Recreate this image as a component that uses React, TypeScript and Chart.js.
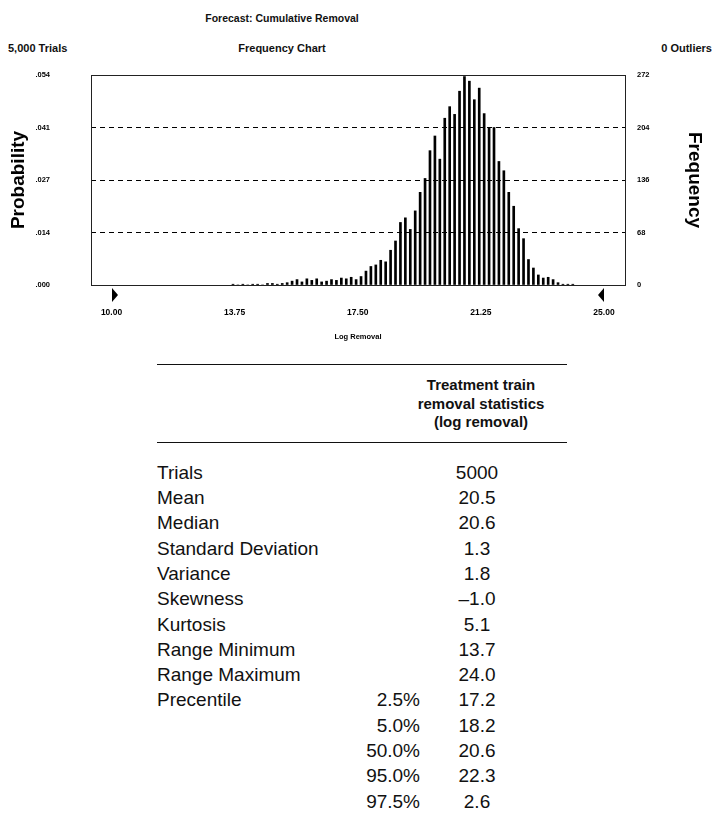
import React, { useEffect, useRef } from "react";
import { Chart, registerables } from "chart.js";

Chart.register(...registerables);

// ---------- chart data ----------
const binCenters = [
  13.7, 13.85, 14.0, 14.15, 14.3, 14.45, 14.6, 14.75, 14.9, 15.05,
  15.2, 15.35, 15.5, 15.65, 15.8, 15.95, 16.1, 16.25, 16.4, 16.55,
  16.7, 16.85, 17.0, 17.15, 17.3, 17.45, 17.6, 17.75, 17.9, 18.05,
  18.2, 18.35, 18.5, 18.65, 18.8, 18.95, 19.1, 19.25, 19.4, 19.55,
  19.7, 19.85, 20.0, 20.15, 20.3, 20.45, 20.6, 20.75, 20.9, 21.05,
  21.2, 21.35, 21.5, 21.65, 21.8, 21.95, 22.1, 22.25, 22.4, 22.55,
  22.7, 22.85, 23.0, 23.15, 23.3, 23.45, 23.6, 23.75, 23.9, 24.05,
];
const frequencies = [
  1, 0, 1, 0, 1, 1, 0, 2, 2, 1,
  2, 3, 5, 7, 4, 8, 6, 8, 4, 5,
  7, 6, 9, 8, 10, 7, 11, 18, 24, 26,
  32, 30, 45, 57, 81, 87, 72, 96, 120, 138,
  174, 193, 163, 216, 231, 221, 251, 270, 264, 240,
  255, 222, 204, 204, 160, 148, 120, 102, 73, 60,
  33, 22, 13, 9, 10, 7, 3, 1, 1, 1,
];
const freqTicks = [0, 68, 136, 204, 272];
const probLabels = [".000", ".014", ".027", ".041", ".054"];
const xTicks = [10, 13.75, 17.5, 21.25, 25];
const xTickLabels = ["10.00", "13.75", "17.50", "21.25", "25.00"];
const certaintyMarkers = [10, 25];

// ---------- header texts ----------
const chartTitle = "Forecast: Cumulative Removal";
const trialsText = "5,000 Trials";
const chartKind = "Frequency Chart";
const outliersText = "0 Outliers";

// ---------- table data ----------
const tableHeader = ["Treatment train", "removal statistics", "(log removal)"];
const statLabels = [
  "Trials", "Mean", "Median", "Standard Deviation", "Variance",
  "Skewness", "Kurtosis", "Range Minimum", "Range Maximum", "Precentile",
];
const statValues = ["5000", "20.5", "20.6", "1.3", "1.8", "\u20131.0", "5.1", "13.7", "24.0"];
const percentileLevels = ["2.5%", "5.0%", "50.0%", "95.0%", "97.5%"];
const percentileValues = ["17.2", "18.2", "20.6", "22.3", "2.6"];

const SANS = "'Liberation Sans', Arial, Helvetica, sans-serif";

export default function App() {
  const canvasRef = useRef<HTMLCanvasElement>(null);

  useEffect(() => {
    const canvas = canvasRef.current;
    if (!canvas) return;

    const framePlugin = {
      id: "frame",
      afterDatasetsDraw(chart: any) {
        const { ctx, chartArea: a } = chart;
        ctx.save();
        ctx.strokeStyle = "#222";
        ctx.lineWidth = 1;
        ctx.strokeRect(
          Math.round(a.left) + 0.5,
          Math.round(a.top) + 0.5,
          Math.round(a.right - a.left),
          Math.round(a.bottom - a.top)
        );
        ctx.restore();
      },
    };

    const markerPlugin = {
      id: "markers",
      afterDraw(chart: any) {
        const { ctx } = chart;
        const xs = chart.scales.x;
        const b = chart.chartArea.bottom;
        ctx.save();
        ctx.fillStyle = "#000";
        certaintyMarkers.forEach((v, i) => {
          const px = Math.round(xs.getPixelForValue(v));
          const dir = i === 0 ? 1 : -1;
          ctx.beginPath();
          ctx.moveTo(px, b + 3);
          ctx.lineTo(px, b + 17);
          ctx.lineTo(px + dir * 6, b + 10);
          ctx.closePath();
          ctx.fill();
        });
        ctx.restore();
      },
    };

    const tickFont = { family: SANS, size: 7.5, weight: "bold" as const };

    const chart = new Chart(canvas, {
      type: "bar",
      data: {
        datasets: [
          {
            data: binCenters.map((c, i) => ({ x: c, y: frequencies[i] })),
            backgroundColor: "#000",
            borderWidth: 0,
            barThickness: 2,
            yAxisID: "y",
          },
        ],
      },
      options: {
        animation: false,
        responsive: true,
        maintainAspectRatio: false,
        layout: { padding: { top: 75, left: 6, right: 6, bottom: 4 } },
        plugins: { legend: { display: false }, tooltip: { enabled: false } },
        scales: {
          x: {
            type: "linear",
            min: 9.375,
            max: 25.64,
            offset: false,
            grid: { display: false, offset: false },
            border: { display: false },
            afterBuildTicks: (s: any) => {
              s.ticks = xTicks.map((v) => ({ value: v }));
            },
            ticks: {
              callback: (_v: any, i: number) => xTickLabels[i],
              padding: 15,
              autoSkip: false,
              maxRotation: 0,
              color: "#000",
              font: { family: SANS, size: 8.5, weight: "bold" },
            },
            title: {
              display: true,
              text: "Log Removal",
              color: "#000",
              padding: { top: 0, bottom: 0 },
              font: { family: SANS, size: 7.5, weight: "bold" },
            },
            afterFit: (s: any) => {
              s.height = 56;
            },
          },
          yProb: {
            type: "linear",
            position: "left",
            min: 0,
            max: 272,
            grid: { display: false },
            border: { display: false },
            afterBuildTicks: (s: any) => {
              s.ticks = freqTicks.map((v) => ({ value: v }));
            },
            ticks: {
              callback: (_v: any, i: number) => probLabels[i],
              padding: 33,
              color: "#000",
              font: tickFont,
            },
            title: {
              display: true,
              text: "Probability",
              color: "#000",
              padding: { top: 1, bottom: 1 },
              font: { family: SANS, size: 19, weight: "bold" },
            },
            afterFit: (s: any) => {
              s.width = 85;
            },
          },
          y: {
            type: "linear",
            position: "right",
            min: 0,
            max: 272,
            grid: {
              color: (c: any) =>
                c.tick && (c.tick.value === 0 || c.tick.value === 272) ? "rgba(0,0,0,0)" : "#000",
              lineWidth: 1,
              drawTicks: false,
            },
            border: { display: false, dash: [5, 4] },
            afterBuildTicks: (s: any) => {
              s.ticks = freqTicks.map((v) => ({ value: v }));
            },
            ticks: {
              callback: (v: any) => String(v),
              padding: 12,
              color: "#000",
              font: tickFont,
            },
            title: {
              display: true,
              text: "Frequency",
              color: "#000",
              padding: { top: 2, bottom: 2 },
              font: { family: SANS, size: 19, weight: "bold" },
            },
            afterFit: (s: any) => {
              s.width = 83;
            },
          },
        },
      } as any,
      plugins: [framePlugin, markerPlugin],
    });

    return () => chart.destroy();
  }, []);

  const rowCenter0 = 472.7;
  const rowStep = 25.3;
  const rowH = 24;

  return (
    <div
      style={{
        position: "absolute",
        left: 0,
        top: 0,
        width: 714,
        height: 816,
        background: "#fff",
        fontFamily: SANS,
        color: "#111",
        overflow: "hidden",
      }}
    >
      {/* header texts */}
      <div style={{ position: "absolute", left: 132, width: 300, top: 11, textAlign: "center", fontWeight: "bold", fontSize: 10.5, lineHeight: "14px" }}>
        {chartTitle}
      </div>
      <div style={{ position: "absolute", left: 8, top: 41, fontWeight: "bold", fontSize: 11, lineHeight: "14px" }}>
        {trialsText}
      </div>
      <div style={{ position: "absolute", left: 182, width: 200, top: 41, textAlign: "center", fontWeight: "bold", fontSize: 11, lineHeight: "14px" }}>
        {chartKind}
      </div>
      <div style={{ position: "absolute", right: 2, top: 41, fontWeight: "bold", fontSize: 11, lineHeight: "14px" }}>
        {outliersText}
      </div>

      {/* chart */}
      <div style={{ position: "absolute", left: 0, top: 0, width: 714, height: 345 }}>
        <canvas ref={canvasRef} />
      </div>

      {/* table */}
      <div style={{ position: "absolute", left: 157, top: 364, width: 410, borderTop: "1.5px solid #111" }} />
      <div style={{ position: "absolute", left: 381, width: 200, top: 376, textAlign: "center", fontWeight: "bold", fontSize: 15, lineHeight: "18.5px", color: "#111" }}>
        {tableHeader.map((t, i) => (
          <div key={i}>{t}</div>
        ))}
      </div>
      <div style={{ position: "absolute", left: 157, top: 442, width: 410, borderTop: "1.5px solid #111" }} />

      {statLabels.map((t, i) => (
        <div key={"l" + i} style={{ position: "absolute", left: 157, top: rowCenter0 + i * rowStep - rowH / 2, fontSize: 19, lineHeight: rowH + "px", whiteSpace: "nowrap" }}>
          {t}
        </div>
      ))}
      {statValues.map((t, i) => (
        <div key={"v" + i} style={{ position: "absolute", left: 427, width: 100, textAlign: "center", top: rowCenter0 + i * rowStep - rowH / 2, fontSize: 19, lineHeight: rowH + "px" }}>
          {t}
        </div>
      ))}
      {percentileLevels.map((t, i) => (
        <div key={"p" + i} style={{ position: "absolute", left: 320, width: 100, textAlign: "right", top: rowCenter0 + (9 + i) * rowStep - rowH / 2, fontSize: 19, lineHeight: rowH + "px" }}>
          {t}
        </div>
      ))}
      {percentileValues.map((t, i) => (
        <div key={"pv" + i} style={{ position: "absolute", left: 427, width: 100, textAlign: "center", top: rowCenter0 + (9 + i) * rowStep - rowH / 2, fontSize: 19, lineHeight: rowH + "px" }}>
          {t}
        </div>
      ))}
    </div>
  );
}
